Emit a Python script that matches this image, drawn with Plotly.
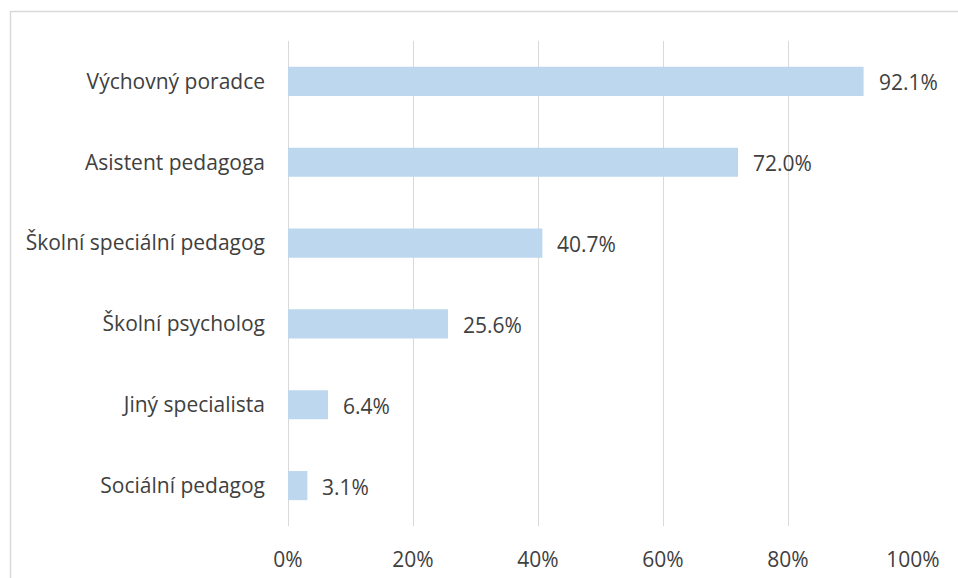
import plotly.graph_objects as go

categories = ["Výchovný poradce", "Asistent pedagoga", "Školní speciální pedagog",
              "Školní psycholog", "Jiný specialista", "Sociální pedagog"]
values = [92.1, 72.0, 40.7, 25.6, 6.4, 3.1]
tick_vals = [0, 20, 40, 60, 80, 100]
tick_text = ["0%", "20%", "40%", "60%", "80%", "100%"]

W, H = 958, 578
L, R, T, B = 288, 45, 41, 52
pw, ph = W - L - R, H - T - B

FONT = "Open Sans"
TXT = "#404040"
FS = 21
GRID = "#d9d9d9"

fig = go.Figure(go.Bar(
    y=categories, x=values, orientation="h",
    marker=dict(color="#BDD7EE", line=dict(width=0)),
    width=0.36, hoverinfo="skip",
))

for c, v in zip(categories, values):
    fig.add_annotation(x=v, y=c, text=f"{v:.1f}%", showarrow=False,
                       xanchor="left", xshift=13, yshift=-1,
                       font=dict(family=FONT, size=FS, color=TXT))

def px_x(p):
    return (p - L) / pw
def px_y(p):
    return 1 - (p - T) / ph

# outer chart border (runs past the right/bottom edge as in the reference)
fig.add_shape(type="rect", xref="paper", yref="paper",
              x0=px_x(10.5), x1=px_x(975), y0=px_y(600), y1=px_y(11.5),
              line=dict(color=GRID, width=1.5), fillcolor="rgba(0,0,0,0)", layer="below")

fig.update_layout(
    width=W, height=H,
    margin=dict(l=L, r=R, t=T, b=B, pad=0, autoexpand=False),
    paper_bgcolor="white", plot_bgcolor="white",
    showlegend=False,
    font=dict(family=FONT, size=FS, color=TXT),
    xaxis=dict(range=[0, 100], tickvals=tick_vals, ticktext=tick_text, automargin=False,
               showgrid=True, gridcolor=GRID, gridwidth=1.3,
               zeroline=True, zerolinecolor=GRID, zerolinewidth=1.3,
               showline=False, ticks="", fixedrange=True,
               ticklabelstandoff=19, tickfont=dict(family=FONT, size=FS, color=TXT)),
    yaxis=dict(categoryorder="array", categoryarray=categories, autorange="reversed",
               automargin=False, fixedrange=True,
               showgrid=False, zeroline=False, showline=False, ticks="",
               ticklabelstandoff=22, tickfont=dict(family=FONT, size=FS, color=TXT)),
)

fig.write_html("out.html", config={"displayModeBar": False},
               post_script="document.body.style.margin='0';document.body.style.overflow='hidden';")
